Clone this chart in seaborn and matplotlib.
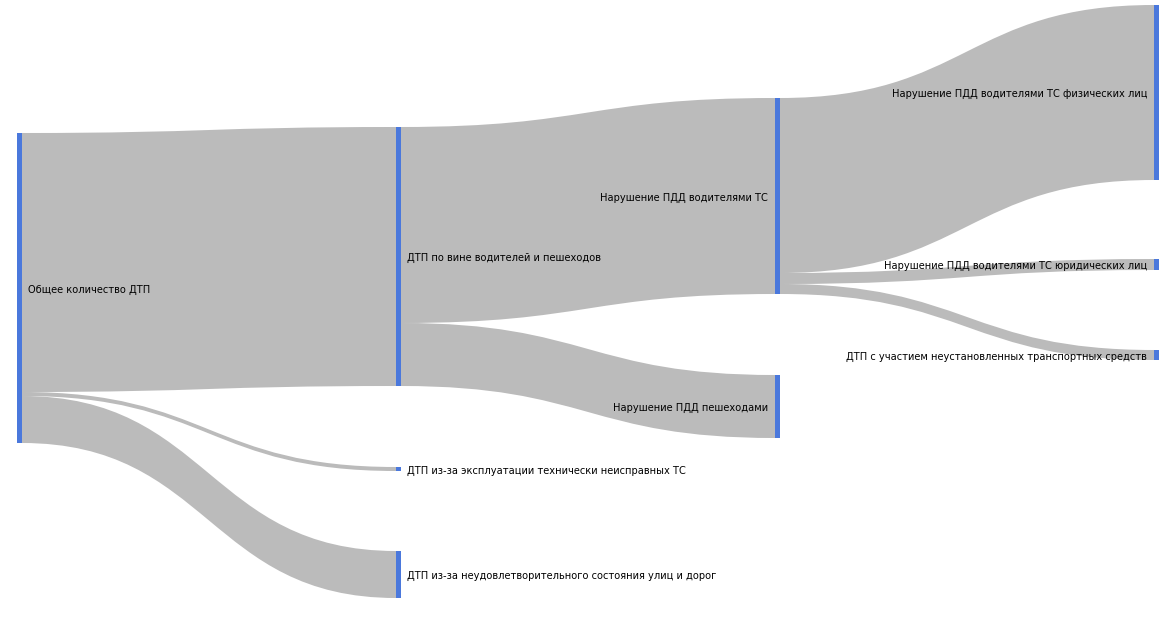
import matplotlib
matplotlib.use("Agg")
import numpy as np
import pandas as pd
import matplotlib.pyplot as plt
from matplotlib.path import Path
from matplotlib.patches import PathPatch
import seaborn as sns

sns.set_theme(style="white")
plt.rcParams['font.family'] = ['DejaVu Sans']

# nodes of the sankey and their column
nodes = ["Общее количество ДТП",
         "ДТП по вине водителей и пешеходов",
         "ДТП из-за эксплуатации технически неисправных ТС",
         "ДТП из-за неудовлетворительного состояния улиц и дорог",
         "Нарушение ПДД водителями ТС",
         "Нарушение ПДД пешеходами",
         "Нарушение ПДД водителями ТС физических лиц",
         "Нарушение ПДД водителями ТС юридических лиц",
         "ДТП с участием неустановленных транспортных средств"]
node_col = [0, 1, 1, 1, 2, 2, 3, 3, 3]

# links (source -> target, value)
src = [0, 0, 0, 1, 1, 4, 4, 4]
tgt = [1, 2, 3, 4, 5, 6, 7, 8]
val = [259, 4, 47, 196, 63, 175, 11, 10]

# layout: vertical start of each node (px) as placed by the original layout
node_top = [133, 127, 467, 551, 98, 375, 5, 259, 350]

links = pd.DataFrame({"src": src, "tgt": tgt, "val": val})
n_in = links.groupby("tgt")["val"].sum()
n_out = links.groupby("src")["val"].sum()
node_val = [max(n_in.get(i, 0), n_out.get(i, 0)) for i in range(len(nodes))]

col_px = 379.0
w = 5 / col_px
flow_color = "#bbbbbb"
node_color = "#4a78dc"

fig = plt.figure(figsize=(11.67, 6.17), dpi=100)
ax = fig.add_axes([0, 0, 1, 1])
ax.set_xlim(-17 / col_px, 1150 / col_px)
ax.set_ylim(617, 0)
ax.axis("off")

out_off = {i: 0.0 for i in range(len(nodes))}
in_off = {i: 0.0 for i in range(len(nodes))}
for s, t, v in zip(links.src, links.tgt, links.val):
    x0 = node_col[s] + w
    x1 = node_col[t]
    xm = (x0 + x1) / 2
    sy = node_top[s] + out_off[s]
    ty = node_top[t] + in_off[t]
    out_off[s] += v
    in_off[t] += v
    verts = [(x0, sy), (xm, sy), (xm, ty), (x1, ty),
             (x1, ty + v), (xm, ty + v), (xm, sy + v), (x0, sy + v), (x0, sy)]
    codes = [Path.MOVETO, Path.CURVE4, Path.CURVE4, Path.CURVE4,
             Path.LINETO, Path.CURVE4, Path.CURVE4, Path.CURVE4, Path.CLOSEPOLY]
    ax.add_patch(PathPatch(Path(verts, codes), fc=flow_color, ec="none", zorder=1))

for i, name in enumerate(nodes):
    c = node_col[i]
    ax.add_patch(plt.Rectangle((c, node_top[i]), w, node_val[i], fc=node_color, ec="none", zorder=2))
    yc = node_top[i] + node_val[i] / 2 + 1.5
    if c < 2:
        ax.text(c + w + 6 / col_px, yc, name, ha="left", va="center", fontsize=7.1, color="#000000", zorder=3)
    else:
        ax.text(c - 7 / col_px, yc, name, ha="right", va="center", fontsize=7.1, color="#000000", zorder=3)

fig.savefig("out.png", dpi=100, facecolor="white")
